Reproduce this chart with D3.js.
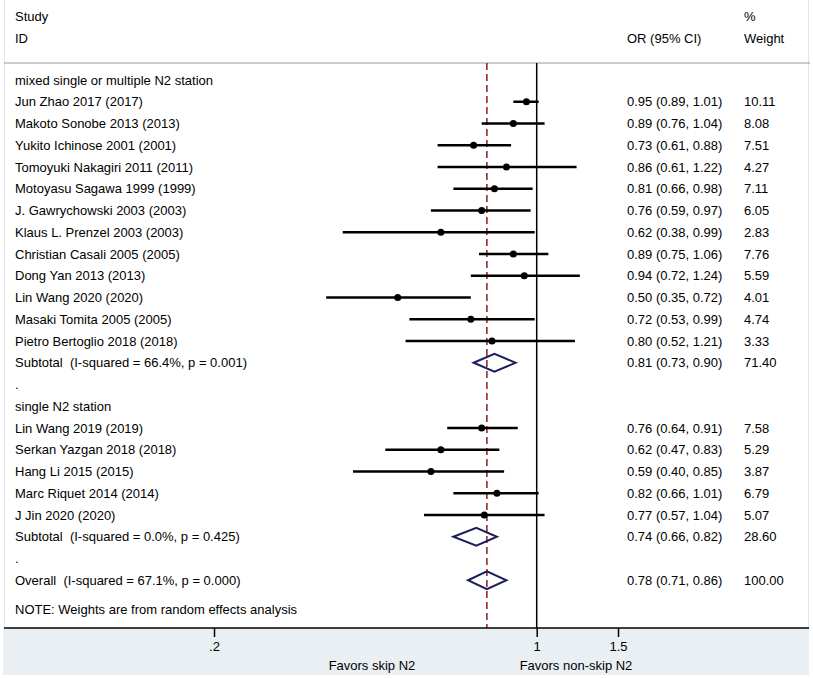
<!DOCTYPE html>
<html>
<head>
<meta charset="utf-8">
<script src="https://cdn.jsdelivr.net/npm/d3@7"></script>
<style>
  body { margin: 0; background: #fff; }
  svg text { font-family: "Liberation Sans", Arial, sans-serif; font-size: 13px; fill: #000; white-space: pre; }
</style>
</head>
<body>
<svg id="chart"></svg>
<script>
// rows of the forest plot, top to bottom
const labels = [
  "mixed single or multiple N2 station",
  "Jun Zhao 2017 (2017)",
  "Makoto Sonobe 2013 (2013)",
  "Yukito Ichinose 2001 (2001)",
  "Tomoyuki Nakagiri 2011 (2011)",
  "Motoyasu Sagawa 1999 (1999)",
  "J. Gawrychowski 2003 (2003)",
  "Klaus L. Prenzel 2003 (2003)",
  "Christian Casali 2005 (2005)",
  "Dong Yan 2013 (2013)",
  "Lin Wang 2020 (2020)",
  "Masaki Tomita 2005 (2005)",
  "Pietro Bertoglio 2018 (2018)",
  "Subtotal  (I-squared = 66.4%, p = 0.001)",
  ".",
  "single N2 station",
  "Lin Wang 2019 (2019)",
  "Serkan Yazgan 2018 (2018)",
  "Hang Li 2015 (2015)",
  "Marc Riquet 2014 (2014)",
  "J Jin 2020 (2020)",
  "Subtotal  (I-squared = 0.0%, p = 0.425)",
  ".",
  "Overall  (I-squared = 67.1%, p = 0.000)"
];
// kind: g = group heading, s = study, d = pooled diamond, b = blank
const kinds = ["g","s","s","s","s","s","s","s","s","s","s","s","s","d","b",
               "g","s","s","s","s","s","d","b","d"];
const est = [null,0.95,0.89,0.73,0.86,0.81,0.76,0.62,0.89,0.94,0.50,0.72,0.80,0.81,null,
             null,0.76,0.62,0.59,0.82,0.77,0.74,null,0.78];
const lo  = [null,0.89,0.76,0.61,0.61,0.66,0.59,0.38,0.75,0.72,0.35,0.53,0.52,0.73,null,
             null,0.64,0.47,0.40,0.66,0.57,0.66,null,0.71];
const hi  = [null,1.01,1.04,0.88,1.22,0.98,0.97,0.99,1.06,1.24,0.72,0.99,1.21,0.90,null,
             null,0.91,0.83,0.85,1.01,1.04,0.82,null,0.86];
const weight = [null,"10.11","8.08","7.51","4.27","7.11","6.05","2.83","7.76","5.59","4.01","4.74","3.33","71.40",null,
                null,"7.58","5.29","3.87","6.79","5.07","28.60",null,"100.00"];

const tickValues = [0.2, 1, 1.5];
const tickLabels = [".2", "1", "1.5"];
const overallOR = 0.78;

const W = 813, H = 678;
const rowTop = 80, rowStep = 21.75;
const plotTop = 63, axisY = 628;

const svg = d3.select("#chart").attr("width", W).attr("height", H);

const x = d3.scaleLog().domain([0.2, 1.5]).range([214, 618]);
const y = d3.scaleLinear().domain([0, 1]).range([rowTop, rowTop + rowStep]);

// frame: bottom panel and light borders
svg.append("rect")
  .attr("x", 3).attr("y", axisY).attr("width", 806).attr("height", H - axisY - 3)
  .attr("fill", "#e9eff2");
svg.append("line").attr("x1", 4.5).attr("x2", 4.5).attr("y1", 0).attr("y2", axisY)
  .attr("stroke", "#e4e4e4");
svg.append("line").attr("x1", 808.5).attr("x2", 808.5).attr("y1", 0).attr("y2", axisY)
  .attr("stroke", "#e4e4e4");

// header
const fmt = d3.format(".2f");
svg.append("text").attr("x", 15).attr("y", 21).text("Study");
svg.append("text").attr("x", 15).attr("y", 43).text("ID");
svg.append("text").attr("x", 627).attr("y", 43).text("OR (95% CI)");
svg.append("text").attr("x", 744).attr("y", 21).text("%");
svg.append("text").attr("x", 744).attr("y", 43).text("Weight");
svg.append("line").attr("x1", 4).attr("x2", 810).attr("y1", plotTop).attr("y2", plotTop)
  .attr("stroke", "#999").attr("stroke-width", 1.2);

// reference lines
svg.append("line").attr("x1", x(1)).attr("x2", x(1)).attr("y1", plotTop).attr("y2", axisY)
  .attr("stroke", "#000").attr("stroke-width", 1.5);
svg.append("line").attr("x1", x(overallOR)).attr("x2", x(overallOR)).attr("y1", plotTop).attr("y2", axisY)
  .attr("stroke", "#8f1b1b").attr("stroke-width", 1.5).attr("stroke-dasharray", "7,4");

const rows = labels.map((l, i) => ({
  label: l, kind: kinds[i], est: est[i], lo: lo[i], hi: hi[i], w: weight[i], i: i
}));

// row labels and columns
svg.selectAll(".lab").data(rows).enter().append("text")
  .attr("class", "lab")
  .attr("x", 15).attr("y", d => y(d.i) + 4.5)
  .text(d => d.label);

const valued = rows.filter(d => d.est != null);
svg.selectAll(".ci").data(valued).enter().append("text")
  .attr("x", 627).attr("y", d => y(d.i) + 4.5)
  .text(d => fmt(d.est) + " (" + fmt(d.lo) + ", " + fmt(d.hi) + ")");
svg.selectAll(".wt").data(valued).enter().append("text")
  .attr("x", 744).attr("y", d => y(d.i) + 4.5)
  .text(d => d.w);

// study CIs and points
const studies = rows.filter(d => d.kind === "s");
svg.selectAll(".ciline").data(studies).enter().append("line")
  .attr("x1", d => x(d.lo)).attr("x2", d => x(d.hi))
  .attr("y1", d => y(d.i)).attr("y2", d => y(d.i))
  .attr("stroke", "#000").attr("stroke-width", 2.5);
svg.selectAll(".dot").data(studies).enter().append("circle")
  .attr("cx", d => x(d.est)).attr("cy", d => y(d.i)).attr("r", 3.5)
  .attr("fill", "#000");

// pooled diamonds
const pooled = rows.filter(d => d.kind === "d");
svg.selectAll(".diamond").data(pooled).enter().append("path")
  .attr("d", d => {
    const cy = y(d.i), h = 9;
    return "M" + x(d.lo) + "," + cy + "L" + x(d.est) + "," + (cy - h) +
           "L" + x(d.hi) + "," + cy + "L" + x(d.est) + "," + (cy + h) + "Z";
  })
  .attr("fill", "none").attr("stroke", "#1b1f5c").attr("stroke-width", 2);

svg.append("text").attr("x", 15).attr("y", 613.5)
  .text("NOTE: Weights are from random effects analysis");

// x axis
svg.append("line").attr("x1", 4).attr("x2", 809).attr("y1", axisY).attr("y2", axisY)
  .attr("stroke", "#000").attr("stroke-width", 1.5);
const ax = svg.append("g").attr("transform", "translate(0," + axisY + ")")
  .call(d3.axisBottom(x).tickValues(tickValues).tickSize(9).tickPadding(5)
    .tickFormat((d, i) => tickLabels[i]));
ax.select(".domain").remove();
ax.selectAll(".tick line").attr("stroke-width", 1.5);
ax.selectAll(".tick text").style("font-family", "Liberation Sans, Arial, sans-serif")
  .style("font-size", "13px").attr("fill", "#000");

svg.append("text").attr("x", 372).attr("y", 670).attr("text-anchor", "middle").text("Favors skip N2");
svg.append("text").attr("x", 576).attr("y", 670).attr("text-anchor", "middle").text("Favors non-skip N2");
</script>
</body>
</html>
